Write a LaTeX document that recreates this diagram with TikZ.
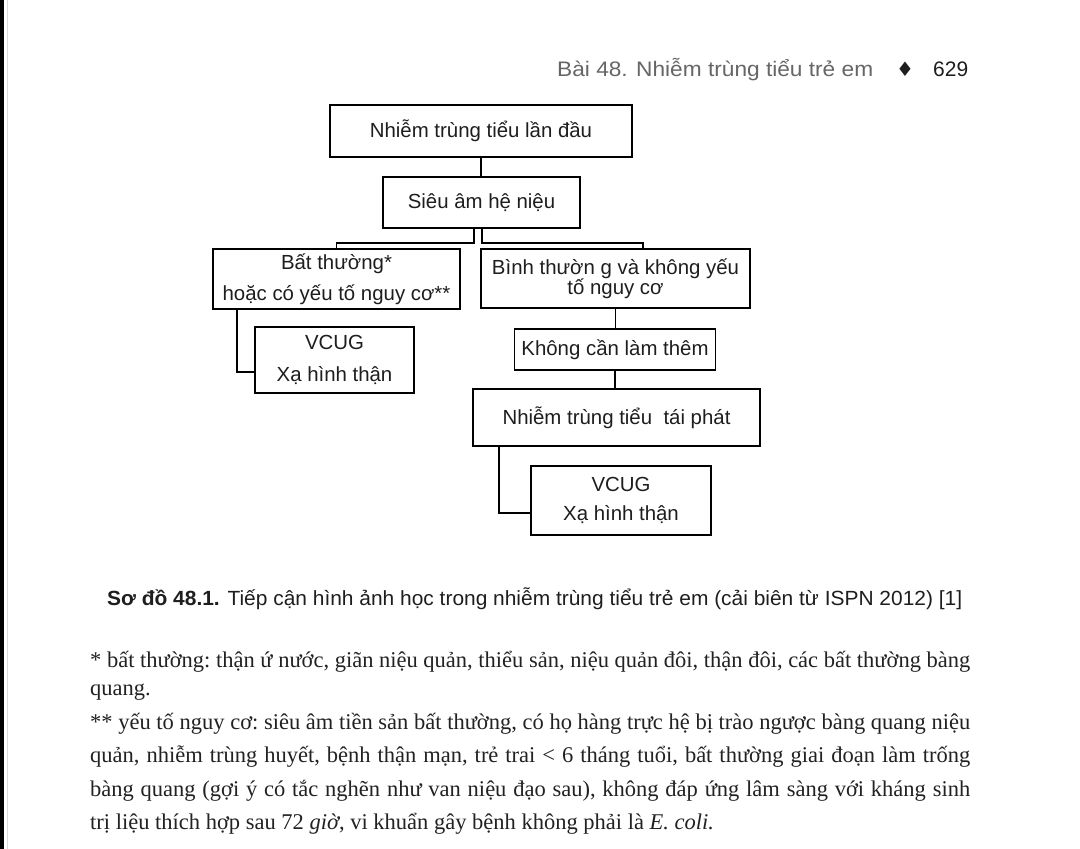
\documentclass[tikz,border=0pt]{standalone}
\usepackage{fontspec}
\usepackage{graphicx}
\setmainfont{Liberation Serif}
\newfontfamily\boxsans{Liberation Sans}
\newfontfamily\fnserif{Liberation Serif}
\newfontfamily\symfont{DejaVu Sans}
\usetikzlibrary{calc}
\definecolor{textdark}{HTML}{1E1E1E}
\definecolor{headgray}{HTML}{666666}
\definecolor{fntext}{HTML}{222222}
\newcommand\boxfont{\boxsans\fontsize{20.4}{24}\selectfont}
\newcommand\fnfont{\fnserif\fontsize{22.5}{26}\selectfont\frenchspacing}
\newsavebox\fnbox
\newcommand\fnjust[1]{\sbox\fnbox{#1}\ifdim\wd\fnbox>880pt\relax\resizebox{880pt}{\height}{#1}\else\makebox[880pt][s]{#1}\fi}
\begin{document}
\begin{tikzpicture}[x=1pt,y=-1pt,
  box/.style={draw=black, line width=1.8pt, inner sep=0pt, align=center, font=\boxfont, text=textdark},
  conn/.style={draw=black, line width=1.8pt},
  fnline/.style={anchor=base west, inner sep=0pt, font=\fnfont, text=fntext},
]
\useasboundingbox (0,0) rectangle (1080,849);
\fill[white] (0,0) rectangle (1080,849);
\fill[black] (0,0) rectangle (4,849);
\draw[black!15, line width=1pt] (7,0) -- (7,849);

% header
\node[anchor=base west, inner sep=0pt, text=headgray] (head) at (557,76)
  {\resizebox{316pt}{\height}{\boxsans\fontsize{21}{25}\selectfont Bài 48. Nhiễm trùng tiểu trẻ em}};
\node[anchor=base, inner sep=0pt, text=textdark] (dia) at (905,76) {\symfont\fontsize{20}{24}\selectfont ♦};
\node[anchor=base west, inner sep=0pt, text=textdark] (page) at (933,76)
  {\resizebox{35pt}{\height}{\boxsans\fontsize{21}{25}\selectfont 629}};

% boxes
\node[box, minimum width=302, minimum height=52] (top) at (481,131) {Nhiễm trùng tiểu lần đầu};
\node[box, minimum width=197, minimum height=51] (sieuam) at (481.5,202.5) {Siêu âm hệ niệu};
\node[box, minimum width=247, minimum height=60] (bat) at (336.5,279) {Bất thường*\\[7pt]hoặc có yếu tố nguy cơ**};
\node[box, minimum width=269, minimum height=59] (binh) at (615.5,278.5) {Bình thườn g và không yếu\\[-4pt]tố nguy cơ};
\node[box, minimum width=159, minimum height=66] (vcuga) at (334.5,360) {VCUG\\[8pt]Xạ hình thận};
\node[box, minimum width=201, minimum height=41] (khong) at (615,349.5) {Không cần làm thêm};
\node[box, minimum width=287, minimum height=57] (taiphat) at (616.5,417.5) {Nhiễm trùng tiểu\ \ tái phát};
\node[box, minimum width=180, minimum height=69] (vcugb) at (621,500.5) {VCUG\\[5pt]Xạ hình thận};

% connectors
\draw[conn] (top.south) -- (top.south |- sieuam.north);
\draw[conn] ($(sieuam.south)+(-7.5,0)$) -- ++(0,14) -| (bat.north);
\draw[conn] ($(sieuam.south)+(0.5,0)$) -- ++(0,14) -| ($(binh.north)+(27.5,0)$);
\draw[conn] ($(bat.south west)+(25,0)$) |- ($(vcuga.west)+(0,12)$);
\draw[conn] (binh.south) -- (binh.south |- khong.north);
\draw[conn] (khong.south) -- (khong.south |- taiphat.north);
\draw[conn] ($(taiphat.south west)+(27,0)$) |- ($(vcugb.west)+(0,12.5)$);

% caption
\node[anchor=base west, inner sep=0pt, text=textdark] (cap) at (107,605)
  {\resizebox{855pt}{\height}{\boxsans\fontsize{20.5}{25}\selectfont\textbf{Sơ đồ 48.1.} Tiếp cận hình ảnh học trong nhiễm trùng tiểu trẻ em (cải biên từ ISPN 2012) [1]}};

% footnotes
\node[fnline] (f1) at (90,667) {\fnjust{* bất thường: thận ứ nước, giãn niệu quản, thiểu sản, niệu quản đôi, thận đôi, các bất thường bàng}};
\node[fnline] (f2) at (90,695) {quang.};
\node[fnline] (f3) at (90,729) {\fnjust{** yếu tố nguy cơ: siêu âm tiền sản bất thường, có họ hàng trực hệ bị trào ngược bàng quang niệu}};
\node[fnline] (f4) at (90,762.5) {\fnjust{quản, nhiễm trùng huyết, bệnh thận mạn, trẻ trai < 6 tháng tuổi, bất thường giai đoạn làm trống}};
\node[fnline] (f5) at (90,796) {\fnjust{bàng quang (gợi ý có tắc nghẽn như van niệu đạo sau), không đáp ứng lâm sàng với kháng sinh}};
\node[fnline] (f6) at (90,829.5) {trị liệu thích hợp sau 72 \textit{giờ}, vi khuẩn gây bệnh không phải là \textit{E. coli.}};
\end{tikzpicture}
\end{document}
